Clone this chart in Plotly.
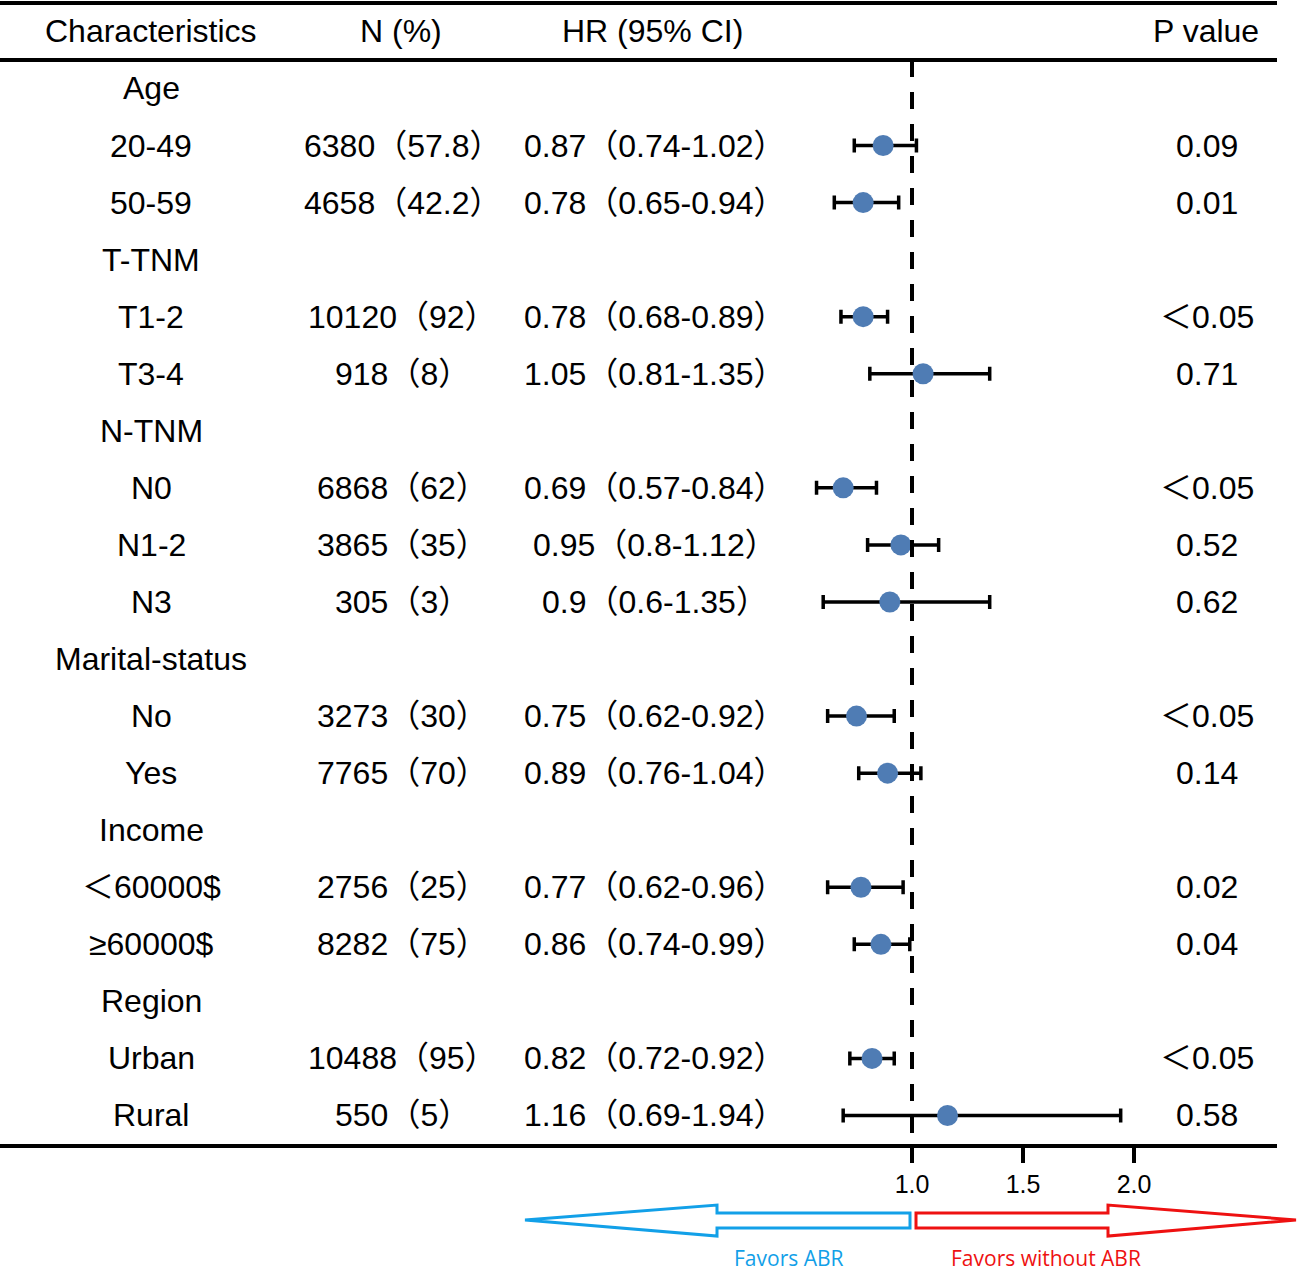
"""
Forest plot of hazard ratios (ABR vs without ABR) by subgroup, drawn with Plotly.
"""
import plotly.graph_objects as go

# --- Data ---
LABELS = ["Age", "20-49", "50-59", "T-TNM", "T1-2", "T3-4", "N-TNM", "N0", "N1-2", "N3",
          "Marital-status", "No", "Yes", "Income", "＜60000$", "≥60000$", "Region", "Urban", "Rural"]
N_COUNT = [None, 6380, 4658, None, 10120, 918, None, 6868, 3865, 305,
           None, 3273, 7765, None, 2756, 8282, None, 10488, 550]
N_PCT = [None, "57.8", "42.2", None, "92", "8", None, "62", "35", "3",
         None, "30", "70", None, "25", "75", None, "95", "5"]
HR = [None, 0.87, 0.78, None, 0.78, 1.05, None, 0.69, 0.95, 0.9,
      None, 0.75, 0.89, None, 0.77, 0.86, None, 0.82, 1.16]
CI_LOW = [None, 0.74, 0.65, None, 0.68, 0.81, None, 0.57, 0.8, 0.6,
          None, 0.62, 0.76, None, 0.62, 0.74, None, 0.72, 0.69]
CI_HIGH = [None, 1.02, 0.94, None, 0.89, 1.35, None, 0.84, 1.12, 1.35,
           None, 0.92, 1.04, None, 0.96, 0.99, None, 0.92, 1.94]
P_VALUE = ["", "0.09", "0.01", "", "＜0.05", "0.71", "", "＜0.05", "0.52", "0.62",
           "", "＜0.05", "0.14", "", "0.02", "0.04", "", "＜0.05", "0.58"]
HEADERS = ["Characteristics", "N (%)", "HR (95% CI)", "P value"]
TICK_VALS = [1.0, 1.5, 2.0]
TICK_TEXT = ["1.0", "1.5", "2.0"]

# --- Layout configuration (pixels) ---
WIDTH, HEIGHT = 1299, 1272
PLOT_BOTTOM = 1144
FONT = "Liberation Sans, Arial, Noto Sans CJK SC, sans-serif"
TEXT_SIZE = 32
COL_X = [151, 403, 655, 1207]
HEADER_X = [151, 401, 652, 1206]


def px_x(p):
    return p / WIDTH


def px_y(p):
    return (PLOT_BOTTOM - p) / PLOT_BOTTOM


def arrow_path(points):
    return "M " + " L ".join(f"{px_x(x)},{px_y(y)}" for x, y in points) + " Z"


def cell(x, y, text, yref="y", size=TEXT_SIZE, family=FONT, color="black"):
    return dict(x=x, y=y, xref="paper", yref=yref, text=text, showarrow=False,
                xanchor="center", yanchor="middle",
                font=dict(size=size, family=family, color=color))


def build_figure():
    rows = list(range(len(LABELS)))
    idx = [i for i in rows if HR[i] is not None]

    fig = go.Figure()
    fig.add_trace(go.Scatter(
        x=[HR[i] for i in idx],
        y=idx,
        mode="markers",
        marker=dict(size=21, color="#4f7cb4"),
        error_x=dict(type="data", symmetric=False,
                     array=[CI_HIGH[i] - HR[i] for i in idx],
                     arrayminus=[HR[i] - CI_LOW[i] for i in idx],
                     color="black", thickness=3.5, width=7),
        showlegend=False,
        hoverinfo="x+y",
    ))

    annotations = [cell(px_x(x), -1, t) for x, t in zip(HEADER_X, HEADERS)]
    for i in rows:
        cells = [LABELS[i], "", "", P_VALUE[i]]
        if N_COUNT[i] is not None:
            cells[1] = f"{N_COUNT[i]}（{N_PCT[i]}）"
        if HR[i] is not None:
            cells[2] = f"{HR[i]}（{CI_LOW[i]}-{CI_HIGH[i]}）"
        for x, text in zip(COL_X, cells):
            if text:
                annotations.append(cell(px_x(x), i, text))
    annotations.append(cell(px_x(789), px_y(1258), "Favors ABR", yref="paper", size=21,
                            family="Open Sans, sans-serif", color="#12a0e8"))
    annotations.append(cell(px_x(1046), px_y(1258), "Favors without ABR", yref="paper",
                            size=21, family="Open Sans, sans-serif", color="#ee1111"))

    shapes = [
        dict(type="line", xref="paper", yref="paper", x0=0, x1=px_x(1277),
             y0=px_y(3), y1=px_y(3), line=dict(color="black", width=4)),
        dict(type="line", xref="paper", yref="y", x0=0, x1=px_x(1277), y0=-0.5, y1=-0.5,
             line=dict(color="black", width=4)),
        dict(type="line", xref="x", yref="y", x0=1, x1=1, y0=-0.5, y1=18.5,
             line=dict(color="black", width=4, dash="17px,15px")),
        dict(type="path", xref="paper", yref="paper", fillcolor="white",
             line=dict(color="#12a0e8", width=3),
             path=arrow_path([(910, 1213), (717, 1213), (717, 1205), (525, 1220),
                              (717, 1236), (717, 1228), (910, 1228)])),
        dict(type="path", xref="paper", yref="paper", fillcolor="white",
             line=dict(color="#ee1111", width=3),
             path=arrow_path([(916, 1213), (1108, 1213), (1108, 1205), (1296, 1220),
                              (1108, 1236), (1108, 1228), (916, 1228)])),
    ]

    fig.update_layout(
        width=WIDTH, height=HEIGHT,
        margin=dict(l=0, r=0, t=0, b=HEIGHT - PLOT_BOTTOM),
        plot_bgcolor="white", paper_bgcolor="white",
        annotations=annotations, shapes=shapes,
        xaxis=dict(domain=[0, 1277 / WIDTH], range=[1 - 912 / 222, 1 + 365 / 222],
                   tickvals=TICK_VALS, ticktext=TICK_TEXT, ticks="outside", ticklen=15,
                   tickwidth=4, tickcolor="black", showline=True, linewidth=4,
                   linecolor="black", showgrid=False, zeroline=False,
                   tickfont=dict(size=25, family=FONT, color="black")),
        yaxis=dict(range=[18.5, -1.55], visible=False, showgrid=False, zeroline=False),
    )
    return fig


def main():
    fig = build_figure()
    # drop the default page margin so the figure sits at the window's top-left corner
    fig.write_html("out.html", config={"displayModeBar": False},
                   post_script="document.body.style.margin = '0';")


if __name__ == "__main__":
    main()
